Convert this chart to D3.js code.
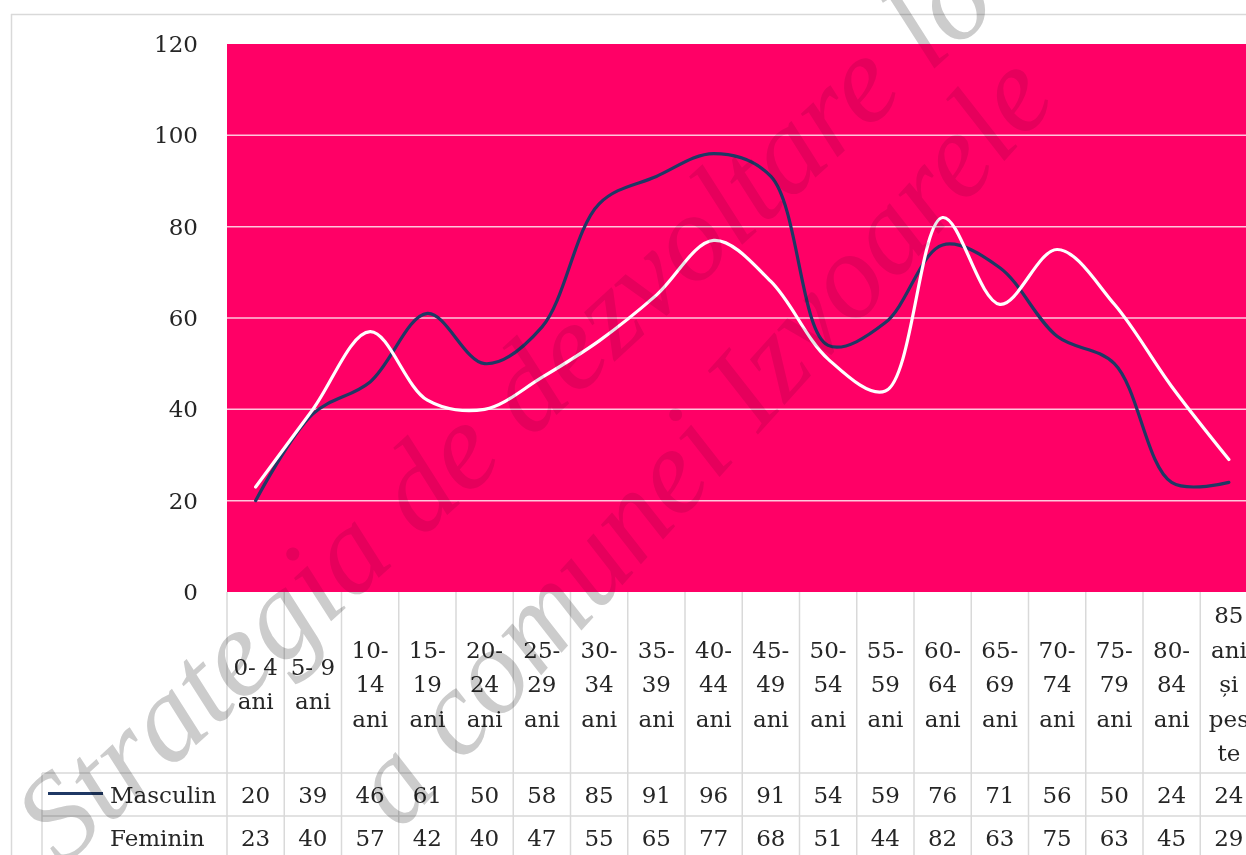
<!DOCTYPE html>
<html><head><meta charset="utf-8">
<script src="https://cdn.jsdelivr.net/npm/d3@7"></script>
<style>
html,body{margin:0;padding:0;background:#fff;overflow:hidden;}
svg{display:block;font-family:"DejaVu Serif",serif;}
</style></head>
<body>
<svg id="chart" width="1246" height="855"></svg>
<script>
const categories = ["0- 4\nani","5- 9\nani","10-\n14\nani","15-\n19\nani","20-\n24\nani","25-\n29\nani","30-\n34\nani","35-\n39\nani","40-\n44\nani","45-\n49\nani","50-\n54\nani","55-\n59\nani","60-\n64\nani","65-\n69\nani","70-\n74\nani","75-\n79\nani","80-\n84\nani","85\nani\nși\npes\nte"];
const masculin = [20,39,46,61,50,58,85,91,96,91,54,59,76,71,56,50,24,24];
const feminin  = [23,40,57,42,40,47,55,65,77,68,51,44,82,63,75,63,45,29];
const seriesNames = ["Masculin","Feminin"];
const yTicks = [0,20,40,60,80,100,120];
const watermark = ["Strategia de dezvoltare lo","a comunei Izvoarele"];

const svg = d3.select("#chart");
const plotLeft = 227, colW = 57.25, plotTop = 44, plotBottom = 592;
const x = d3.scaleBand().domain(d3.range(categories.length)).range([plotLeft, plotLeft + colW*categories.length]).padding(0);
const y = d3.scaleLinear().domain([0,120]).range([plotBottom, plotTop]);
const cx = i => x(i) + x.bandwidth()/2;
const plotRight = x.range()[1];

// outer frame
svg.append("line").attr("x1",11).attr("x2",1246).attr("y1",14.5).attr("y2",14.5).attr("stroke","#d9d9d9").attr("stroke-width",1.5);
svg.append("line").attr("x1",11.5).attr("x2",11.5).attr("y1",14).attr("y2",855).attr("stroke","#d9d9d9").attr("stroke-width",1.5);

// plot area
svg.append("rect").attr("x",plotLeft).attr("y",plotTop).attr("width",plotRight-plotLeft).attr("height",plotBottom-plotTop).attr("fill","#ff0066");

// gridlines
svg.append("g").selectAll("line").data(yTicks.filter(d=>d>0 && d<120)).join("line")
  .attr("x1",plotLeft).attr("x2",plotRight).attr("y1",d=>y(d)).attr("y2",d=>y(d))
  .attr("stroke","#ffc6dc").attr("stroke-width",1.5);

// y axis labels
const yAxis = d3.axisLeft(y).tickValues(yTicks).tickSize(0).tickPadding(0);
const ya = svg.append("g").attr("transform",`translate(198,0)`).call(yAxis);
ya.select(".domain").remove();
ya.selectAll("text").attr("font-family","DejaVu Serif").attr("font-size",23).attr("fill","#262626");

// lines
const line = d3.line().x((d,i)=>cx(i)).y(d=>y(d)).curve(d3.curveCatmullRom.alpha(0.5));
svg.append("path").datum(masculin).attr("d",line).attr("fill","none").attr("stroke","#1f3864").attr("stroke-width",3.2).attr("stroke-linecap","round");
svg.append("path").datum(feminin).attr("d",line).attr("fill","none").attr("stroke","#ffffff").attr("stroke-width",3.2).attr("stroke-linecap","round");

// data table
const g = svg.append("g");
const grid = "#d9d9d9";
g.selectAll("line.v").data(d3.range(categories.length+1)).join("line")
  .attr("x1",i=>plotLeft + i*colW).attr("x2",i=>plotLeft + i*colW)
  .attr("y1",plotBottom).attr("y2",855).attr("stroke",grid).attr("stroke-width",1.5);
g.append("line").attr("x1",42).attr("x2",42).attr("y1",773).attr("y2",855).attr("stroke",grid).attr("stroke-width",1.5);
[773,816].forEach(yy=>{
  g.append("line").attr("x1",42).attr("x2",plotRight).attr("y1",yy).attr("y2",yy).attr("stroke",grid).attr("stroke-width",1.5);
});

// header labels
const lh = 34.5, headerCenter = 684;
categories.forEach((c,i)=>{
  const lines = c.split("\n");
  const t = g.append("text").attr("text-anchor","middle").attr("font-size",23).attr("fill","#262626");
  lines.forEach((ln,k)=>{
    t.append("tspan").attr("x",cx(i)).attr("y",headerCenter + (k-(lines.length-1)/2)*lh).attr("dy","0.35em").text(ln);
  });
});

// rows
const rowY = [794.5, 838];
[masculin, feminin].forEach((vals,r)=>{
  g.selectAll(null).data(vals).join("text")
    .attr("x",(d,i)=>cx(i)).attr("y",rowY[r]).attr("dy","0.35em")
    .attr("text-anchor","middle").attr("font-size",23).attr("fill","#262626").text(d=>d);
  g.append("text").attr("x",110).attr("y",rowY[r]).attr("dy","0.35em").attr("font-size",23).attr("fill","#262626").text(seriesNames[r]);
});
g.append("line").attr("x1",48).attr("x2",103).attr("y1",rowY[0]-1).attr("y2",rowY[0]-1).attr("stroke","#1f3864").attr("stroke-width",3.2);

// watermark: lighter inside the pink plot area, grey outside
const defs = svg.append("defs");
defs.append("clipPath").attr("id","inPlot").append("rect")
  .attr("x",plotLeft).attr("y",plotTop).attr("width",plotRight-plotLeft).attr("height",plotBottom-plotTop);
const mask = defs.append("mask").attr("id","outPlot");
mask.append("rect").attr("x",0).attr("y",0).attr("width",1246).attr("height",855).attr("fill","#fff");
mask.append("rect").attr("x",plotLeft).attr("y",plotTop).attr("width",plotRight-plotLeft).attr("height",plotBottom-plotTop).attr("fill","#000");

function drawWatermark(sel, fill){
  sel.append("text").attr("transform","translate(62,868) rotate(-42.5)")
    .attr("font-family","Liberation Serif").attr("font-style","italic").attr("font-size",124)
    .attr("fill",fill).text(watermark[0]);
  sel.append("text").attr("transform","translate(400,832) rotate(-48)")
    .attr("font-family","Liberation Serif").attr("font-style","italic").attr("font-size",122)
    .attr("fill",fill).text(watermark[1]);
}
drawWatermark(svg.append("g").style("mix-blend-mode","multiply").attr("mask","url(#outPlot)").attr("pointer-events","none"), "#cccccc");
drawWatermark(svg.append("g").style("mix-blend-mode","multiply").attr("clip-path","url(#inPlot)").attr("pointer-events","none"), "#e6e6e6");
</script>
</body></html>
